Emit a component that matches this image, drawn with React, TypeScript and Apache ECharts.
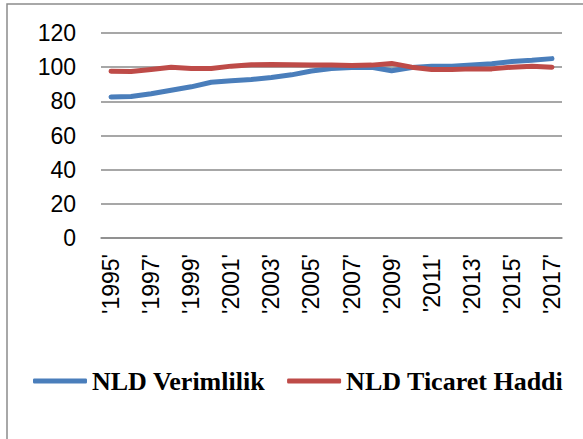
import React, { useEffect, useRef } from "react";
import * as echarts from "echarts";

const years = [
  "'1995'", "'1996'", "'1997'", "'1998'", "'1999'", "'2000'", "'2001'", "'2002'",
  "'2003'", "'2004'", "'2005'", "'2006'", "'2007'", "'2008'", "'2009'", "'2010'",
  "'2011'", "'2012'", "'2013'", "'2014'", "'2015'", "'2016'", "'2017'",
];

const verimlilik = [
  82.6, 82.8, 84.4, 86.5, 88.5, 91.2, 92.0, 92.8, 94.0, 95.5, 97.8, 99.2,
  99.8, 100.0, 97.9, 99.8, 100.6, 100.6, 101.2, 102.0, 103.3, 104.0, 105.0,
];

const ticaretHaddi = [
  97.6, 97.4, 98.6, 99.9, 99.2, 99.2, 100.6, 101.4, 101.6, 101.4, 101.3, 101.3,
  101.0, 101.2, 102.2, 100.0, 98.6, 98.7, 99.0, 99.0, 100.0, 100.5, 100.0,
];

const seriesNames = ["NLD Verimlilik", "NLD Ticaret Haddi"];
const yMin = 0;
const yMax = 120;
const yInterval = 20;

export default function App() {
  const ref = useRef<HTMLDivElement>(null);

  useEffect(() => {
    if (!ref.current) return;
    const chart = echarts.init(ref.current, null, { renderer: "svg" });
    const gridColor = "#8a8a8a";
    chart.setOption({
      animation: false,
      backgroundColor: "#ffffff",
      graphic: [
        {
          type: "rect",
          shape: { x: 7, y: 4, width: 700, height: 600 },
          style: { fill: "none", stroke: "#8c8c8c", lineWidth: 1.5 },
          silent: true,
          z: -1,
        },
      ],
      grid: { left: 101, right: 21, top: 33, bottom: 201 },
      legend: {
        left: 28,
        top: 363,
        icon: "roundRect",
        itemWidth: 54,
        itemHeight: 5,
        itemGap: 22,
        textStyle: {
          fontFamily: "Liberation Serif",
          fontWeight: "bold",
          fontSize: 26,
          color: "#000000",
        },
        data: seriesNames,
      },
      xAxis: {
        type: "category",
        data: years,
        boundaryGap: true,
        axisLine: { show: true, lineStyle: { color: gridColor, width: 1.5 } },
        axisTick: { show: false },
        axisLabel: {
          rotate: 90,
          interval: 1,
          margin: 16,
          fontFamily: "Liberation Sans",
          fontSize: 23,
          color: "#000000",
        },
        splitLine: { show: false },
      },
      yAxis: {
        type: "value",
        min: yMin,
        max: yMax,
        interval: yInterval,
        axisLine: { show: false },
        axisTick: { show: false },
        axisLabel: {
          margin: 25,
          fontFamily: "Liberation Sans",
          fontSize: 23,
          color: "#000000",
        },
        splitLine: { show: true, lineStyle: { color: gridColor, width: 1.5 } },
      },
      series: [
        {
          name: seriesNames[0],
          type: "line",
          data: verimlilik,
          showSymbol: false,
          symbol: "none",
          color: "#4a7ebb",
          lineStyle: { width: 5, color: "#4a7ebb", cap: "round", join: "round" },
        },
        {
          name: seriesNames[1],
          type: "line",
          data: ticaretHaddi,
          showSymbol: false,
          symbol: "none",
          color: "#be4b48",
          lineStyle: { width: 5, color: "#be4b48", cap: "round", join: "round" },
        },
      ],
    });
    return () => chart.dispose();
  }, []);

  return (
    <div
      ref={ref}
      style={{ position: "absolute", left: 0, top: 0, width: 583, height: 439 }}
    />
  );
}
